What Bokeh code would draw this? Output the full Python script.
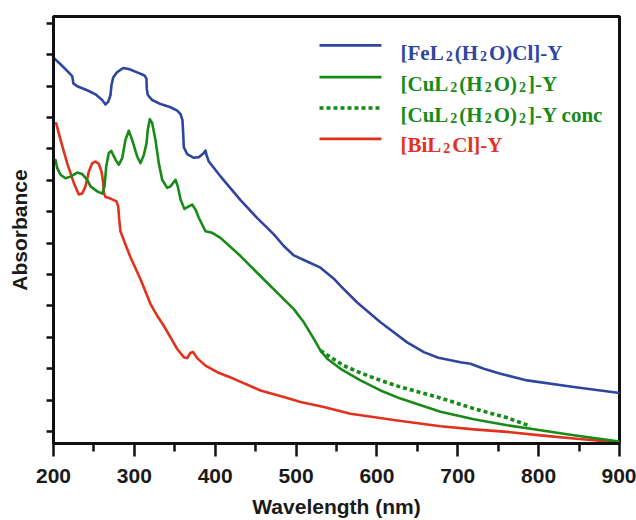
from bokeh.plotting import figure
from bokeh.models import FixedTicker, Range1d, Label, CustomJSTickFormatter
from bokeh.embed import file_html
from bokeh.resources import INLINE

# ---- UV-Vis absorbance spectra (wavelength in nm, absorbance in arbitrary units) ----
wl_fe = [200, 208.7, 216.9, 223.1, 223.9, 224.5, 229.3, 241.7, 251.9, 260.2, 264.3,
         267.6, 270.5, 271.7, 273.8, 278.8, 286.2, 293.1, 303.5, 312.5, 315.0, 315.3,
         316.6, 322.1, 332.4, 344.7, 353.0, 357.1, 359.5, 360.4, 361.1, 365.3, 373.5,
         379.7, 385.9, 388.0, 389.2, 392.1, 406.5, 431.3, 452, 472.5, 484.8, 497.2,
         515, 530.2, 546.7, 555, 575.6, 604.4, 637.4, 658.0, 676, 703.3, 715.7, 732.2,
         752.8, 785.8, 843.5, 900]
abs_fe = [1.191, 1.170, 1.149, 1.132, 1.121, 1.109, 1.100, 1.087, 1.074, 1.056, 1.042,
          1.050, 1.072, 1.103, 1.128, 1.145, 1.158, 1.155, 1.144, 1.134, 1.124, 1.093,
          1.072, 1.056, 1.043, 1.033, 1.022, 1.011, 0.992, 0.950, 0.906, 0.884, 0.872,
          0.874, 0.887, 0.895, 0.881, 0.860, 0.813, 0.737, 0.680, 0.628, 0.591, 0.561,
          0.540, 0.522, 0.487, 0.464, 0.411, 0.348, 0.284, 0.253, 0.235, 0.221, 0.216,
          0.200, 0.184, 0.163, 0.142, 0.123]

wl_cu = [202.5, 204.6, 208.7, 214.8, 221.0, 229.3, 235.5, 241.7, 245.8, 254.1, 260.2,
         263.1, 265.2, 268.4, 271.4, 276.7, 280.8, 285.0, 289.0, 293.1, 297.3, 303.5,
         307.6, 311.7, 315.0, 316.6, 319.1, 322.1, 326.1, 330.2, 334.4, 340.6, 344.7,
         350.9, 353.7, 357.1, 362.0, 367.3, 371.5, 375.6, 379.7, 388.0, 396.3, 406.5,
         431.3, 458, 480.7, 497.2, 509.6, 522.0, 530.2, 538.5, 555, 579.7, 604.4, 629.1,
         678.6, 719.8, 761.1, 802.3, 843.5, 900]
abs_cu = [0.865, 0.839, 0.818, 0.807, 0.812, 0.825, 0.820, 0.802, 0.781, 0.765, 0.758,
          0.781, 0.844, 0.887, 0.894, 0.866, 0.850, 0.871, 0.929, 0.958, 0.929, 0.876,
          0.855, 0.881, 0.918, 0.961, 0.995, 0.982, 0.929, 0.855, 0.802, 0.776, 0.781,
          0.802, 0.781, 0.739, 0.709, 0.717, 0.723, 0.707, 0.681, 0.638, 0.633, 0.617,
          0.559, 0.490, 0.432, 0.390, 0.348, 0.295, 0.258, 0.232, 0.200, 0.163, 0.131,
          0.105, 0.063, 0.039, 0.020, 0.004, -0.012, -0.032]

wl_cu_conc = [530.2, 538.5, 559, 579.7, 604.4, 629.1, 678.6, 719.8, 761.1, 790]
abs_cu_conc = [0.258, 0.244, 0.210, 0.187, 0.163, 0.142, 0.107, 0.073, 0.044, 0.017]

wl_bi = [203.3, 208.7, 216.9, 225.1, 231.3, 235.5, 239.6, 243.7, 247.9, 251.9, 256.0,
         259.4, 261.5, 262.2, 264.3, 270.5, 277.9, 280.0, 281.3, 282.9, 289.0, 295.2,
         307.6, 320, 328.2, 336.4, 344.7, 353, 361.1, 365.3, 369.4, 372.8, 377.7, 388,
         402.5, 423.0, 456, 484.8, 505.5, 534.3, 567.3, 623, 678.6, 719.8, 761.1, 802.3,
         843.5, 900]
abs_bi = [0.982, 0.929, 0.855, 0.792, 0.755, 0.758, 0.781, 0.828, 0.855, 0.860, 0.853,
          0.828, 0.792, 0.760, 0.747, 0.742, 0.733, 0.717, 0.675, 0.637, 0.596, 0.555,
          0.485, 0.406, 0.369, 0.337, 0.300, 0.263, 0.237, 0.234, 0.251, 0.253, 0.234,
          0.210, 0.189, 0.168, 0.131, 0.110, 0.094, 0.078, 0.057, 0.036, 0.017, 0.007,
          -0.001, -0.012, -0.022, -0.035]

x_ticks = [200, 300, 400, 500, 600, 700, 800, 900]
x_minor = [250, 350, 450, 550, 650, 750, 850]
y_ticks = [0.0, 0.1, 0.2, 0.3, 0.4, 0.5, 0.6, 0.7, 0.8, 0.9, 1.0, 1.1, 1.2, 1.3]

BLUE = "#2e469f"
GREEN = "#178a17"
RED = "#e2311d"

# ---- layout ----
W, H = 636, 520
FL, FR, FT, FB = 53, 619, 16, 445      # frame edges in pixels
X0, X1 = 200, 900
Y0, Y1 = -0.038, 1.322


def px2x(px):
    return X0 + (px - FL) * (X1 - X0) / (FR - FL)


def py2y(py):
    return Y1 - (py - FT) * (Y1 - Y0) / (FB - FT)


p = figure(width=W, height=H, x_range=Range1d(X0, X1), y_range=Range1d(Y0, Y1),
           output_backend="svg", toolbar_location=None,
           min_border_left=FL, min_border_right=W - FR,
           min_border_top=FT, min_border_bottom=H - FB)
p.grid.visible = False
p.background_fill_color = "white"
p.border_fill_color = "white"
p.outline_line_color = "#111111"
p.outline_line_width = 3

AX_FONT = "Liberation Sans"
for ax in (p.xaxis, p.yaxis):
    ax.axis_line_width = 3
    ax.axis_line_color = "#111111"
    ax.major_tick_line_width = 2.5
    ax.minor_tick_line_width = 2.5
    ax.major_tick_line_color = "#111111"
    ax.minor_tick_line_color = "#111111"
    ax.major_tick_in = 0
    ax.minor_tick_in = 0
    ax.axis_label_text_font = AX_FONT
    ax.axis_label_text_font_style = "bold"
    ax.axis_label_text_font_size = "21px"
    ax.axis_label_text_color = "#1a1a1a"
    ax.major_label_text_font = AX_FONT
    ax.major_label_text_font_style = "bold"
    ax.major_label_text_font_size = "21px"
    ax.major_label_text_color = "#1a1a1a"

p.xaxis.ticker = FixedTicker(ticks=x_ticks, minor_ticks=x_minor)
p.xaxis.major_tick_out = 13
p.xaxis.minor_tick_out = 8
p.xaxis.major_label_standoff = 12
p.xaxis.axis_label = "Wavelength (nm)"
p.xaxis.axis_label_standoff = 9

p.yaxis.ticker = FixedTicker(ticks=y_ticks, minor_ticks=[])
p.yaxis.formatter = CustomJSTickFormatter(code="return ''")
p.yaxis.major_tick_out = 7
p.yaxis.major_label_standoff = 0
p.yaxis.axis_label = "Absorbance"
p.yaxis.axis_label_standoff = 16

# ---- spectra ----
common = dict(line_width=2.6, line_join="round", line_cap="round")
p.line(wl_fe, abs_fe, line_color=BLUE, **common)
p.line(wl_bi, abs_bi, line_color=RED, **common)
p.line(wl_cu, abs_cu, line_color=GREEN, **common)
p.line(wl_cu_conc, abs_cu_conc, line_color=GREEN, line_width=3.6,
       line_dash="4 3", line_cap="butt")

# ---- legend with subscripted formulas ----
TIMES_BOLD = {'[': 333, ']': 333, '(': 333, ')': 333, '-': 333, ' ': 250,
              'F': 611, 'e': 444, 'L': 667, 'H': 778, 'O': 778, 'C': 722,
              'l': 278, 'Y': 722, 'u': 556, 'B': 667, 'i': 278, 'c': 444,
              'o': 500, 'n': 556, '2': 500}
MAIN, SUB, SUB_DROP, GAP = 21, 14, 3, 2
LEG_FONT = "Liberation Serif"


def text_width(s, size):
    return sum(TIMES_BOLD.get(ch, 500) for ch in s) / 1000 * size


def formula(px, py_base, parts, color):
    x = px
    for s, sub in parts:
        if sub:
            x += GAP
        size = SUB if sub else MAIN
        yb = py_base + (SUB_DROP if sub else 0)
        p.add_layout(Label(x=px2x(x), y=py2y(yb), text=s, text_font=LEG_FONT,
                           text_font_size=f"{size}px", text_font_style="bold",
                           text_color=color, text_baseline="alphabetic",
                           text_align="left"))
        x += text_width(s, size)
        if sub:
            x += GAP


LX0, LX1, TX = 319, 381, 400
rows = [
    (45, 52.5, BLUE, None,
     [("[FeL", 0), ("2", 1), ("(H", 0), ("2", 1), ("O)Cl]-Y", 0)]),
    (77, 84, GREEN, None,
     [("[CuL", 0), ("2", 1), ("(H", 0), ("2", 1), ("O)", 0), ("2", 1), ("]-Y", 0)]),
    (108, 114.5, GREEN, "4 3",
     [("[CuL", 0), ("2", 1), ("(H", 0), ("2", 1), ("O)", 0), ("2", 1), ("]-Y conc", 0)]),
    (139, 145, RED, None,
     [("[BiL", 0), ("2", 1), ("Cl]-Y", 0)]),
]
for ly, tb, col, dash, parts in rows:
    if dash:
        p.line([px2x(LX0), px2x(LX1)], [py2y(ly), py2y(ly)], line_color=col,
               line_width=3.6, line_dash=dash, line_cap="butt")
    else:
        p.line([px2x(LX0), px2x(LX1)], [py2y(ly), py2y(ly)], line_color=col,
               line_width=2.8, line_cap="butt")
    formula(TX, tb, parts, col)

open("out.html", "w").write(file_html(p, INLINE))
